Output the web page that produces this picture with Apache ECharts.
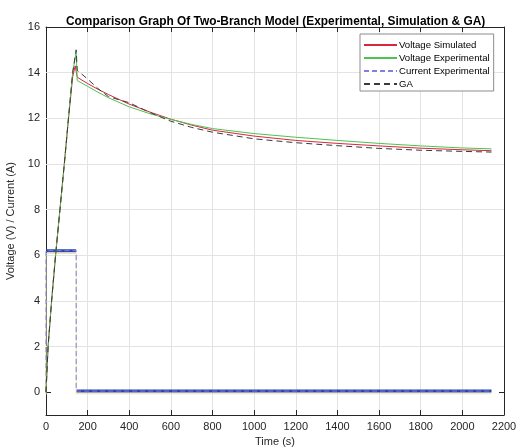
<!DOCTYPE html>
<html><head><meta charset="utf-8">
<script src="https://cdn.jsdelivr.net/npm/echarts@6/dist/echarts.min.js"></script>
<style>html,body{margin:0;padding:0;background:#fff}#c{width:525px;height:448px}</style>
</head><body><div id="c"></div>
<script>
// ---- data ----
const xTicks = [0,200,400,600,800,1000,1200,1400,1600,1800,2000,2200];
const yTicks = [0,2,4,6,8,10,12,14,16];

const simT = [0,10,27,46,67,88,108,128,140,150,200,250,300,400,500,600,700,800,1000,1200,1400,1600,1800,2000,2140];
const simV = [0,2,4,6,8,10,12,13.8,14.3,13.8,13.52,13.27,13.04,12.62,12.27,11.96,11.7,11.48,11.22,11.03,10.9,10.79,10.69,10.62,10.58];

const expT = [0,10,27,46,67,88,108,128,145,150,200,250,300,400,500,600,700,800,1000,1200,1400,1600,1800,2000,2140];
const expV = [0,2,4,6,8,10,12,14,14.9,13.65,13.4,13.14,12.9,12.5,12.2,11.95,11.73,11.55,11.33,11.17,11.03,10.9,10.79,10.7,10.66];

const gaT = [0,10,27,46,67,88,108,128,145,150,200,250,300,400,500,600,700,800,1000,1200,1400,1600,1800,2000,2140];
const gaV = [0,2,4,6,8,10,12,14,15,14.1,13.72,13.3,12.95,12.68,12.25,11.87,11.6,11.39,11.1,10.93,10.8,10.68,10.6,10.55,10.52];

const curT = [0,0,145,145,2140];
const curA = [0,6.2,6.2,0.05,0.05];

// thick current trace: two horizontal runs (gap at the step)
const thickT = [0,145,145,145,2140];
const thickA = [6.2,6.2,'-',0.05,0.05];

const pair = (t, v) => t.map((x, i) => [x, v[i]]);

const chart = echarts.init(document.getElementById('c'), null, {renderer: 'canvas'});
const font = "'Liberation Sans', Arial, sans-serif";
const axisCol = '#262626';
const gridCol = '#e3e3e3';

const xBase = {
  type: 'value', min: 0, max: 2200, interval: 200,
  axisLine: {show: true, onZero: false, lineStyle: {color: axisCol, width: 1}},
  axisTick: {show: true, inside: true, length: 5, lineStyle: {color: axisCol}},
};
const yBase = {
  type: 'value', min: -1, max: 16,
  axisLine: {show: true, onZero: false, lineStyle: {color: axisCol, width: 1}},
  axisTick: {show: true, inside: true, length: 5, customValues: yTicks, lineStyle: {color: axisCol}},
};

chart.setOption({
  animation: false,
  backgroundColor: '#fff',
  title: {
    text: 'Comparison Graph Of Two-Branch Model (Experimental, Simulation & GA)',
    left: 61, top: 11,
    textStyle: {fontFamily: font, fontSize: 11.9, fontWeight: 'bold', color: '#000'}
  },
  grid: {left: 46, right: 21, top: 27, bottom: 33, outerBoundsMode: 'none', containLabel: false},
  legend: {
    data: ['Voltage Simulated', 'Voltage Experimental', 'Current Experimental', 'GA'],
    orient: 'vertical', left: 360, top: 34, z: 20,
    backgroundColor: '#fff', borderColor: '#8c8c8c', borderWidth: 1,
    padding: [5, 4, 1, 3],
    itemWidth: 33, itemHeight: 12, itemGap: 1,
    itemStyle: {opacity: 0},
    textStyle: {fontFamily: font, fontSize: 9.6, color: '#000', padding: [0, 0, 0, -3], lineHeight: 12}
  },
  xAxis: [
    Object.assign({}, xBase, {
      position: 'bottom',
      name: 'Time (s)', nameLocation: 'middle', nameGap: 21,
      nameTextStyle: {fontFamily: font, fontSize: 11, color: axisCol},
      axisLabel: {fontFamily: font, fontSize: 11, color: axisCol, margin: 6, formatter: v => String(v)},
      splitLine: {show: true, lineStyle: {color: gridCol, width: 1}}
    }),
    Object.assign({}, xBase, {
      position: 'top',
      axisLabel: {show: false},
      splitLine: {show: false}
    })
  ],
  yAxis: [
    Object.assign({}, yBase, {
      position: 'left',
      name: 'Voltage (V) / Current (A)', nameLocation: 'middle', nameGap: 28,
      nameTextStyle: {fontFamily: font, fontSize: 11, color: axisCol},
      axisLabel: {fontFamily: font, fontSize: 11, color: axisCol, margin: 6, customValues: yTicks, formatter: v => String(v)},
      splitLine: {show: false}
    }),
    Object.assign({}, yBase, {
      position: 'right',
      axisLabel: {show: false},
      splitLine: {show: false}
    })
  ],
  series: [
    {
      name: 'gridY', type: 'line', data: [], silent: true, z: 1,
      markLine: {
        silent: true, symbol: ['none', 'none'], label: {show: false}, z: 1,
        lineStyle: {color: gridCol, width: 1, type: 'solid'},
        data: yTicks.slice(1, -1).map(v => ({yAxis: v}))
      }
    },
    {
      name: 'CurrentBase', type: 'line', data: pair(curT, curA.map(v => v - 0.12)),
      symbol: 'none', lineStyle: {color: '#f2e3a2', width: 1}, silent: true
    },
    {
      name: 'CurrentThick', type: 'line', data: pair(thickT, thickA),
      symbol: 'none', lineStyle: {color: '#2a46b0', width: 3}, silent: true,
      connectNulls: false, z: 2
    },
    {
      name: 'Current Experimental', type: 'line', data: pair(curT, curA),
      symbol: 'none', itemStyle: {color: '#7f7fe6'},
      lineStyle: {color: '#7f7fe6', width: 1, type: [5, 3]}, z: 3
    },
    {
      name: 'Voltage Simulated', type: 'line', data: pair(simT, simV),
      symbol: 'none', itemStyle: {color: '#b3163c'},
      lineStyle: {color: '#d8283f', width: 1}, z: 4
    },
    {
      name: 'Voltage Experimental', type: 'line', data: pair(expT, expV),
      symbol: 'none', itemStyle: {color: '#4fc24f'},
      lineStyle: {color: '#4fc24f', width: 1}, z: 4
    },
    {
      name: 'GA', type: 'line', data: pair(gaT, gaV),
      symbol: 'none', itemStyle: {color: '#3a3a3a'},
      lineStyle: {color: '#3a3a3a', width: 1, type: [6, 4]}, z: 5
    }
  ]
});
</script></body></html>
